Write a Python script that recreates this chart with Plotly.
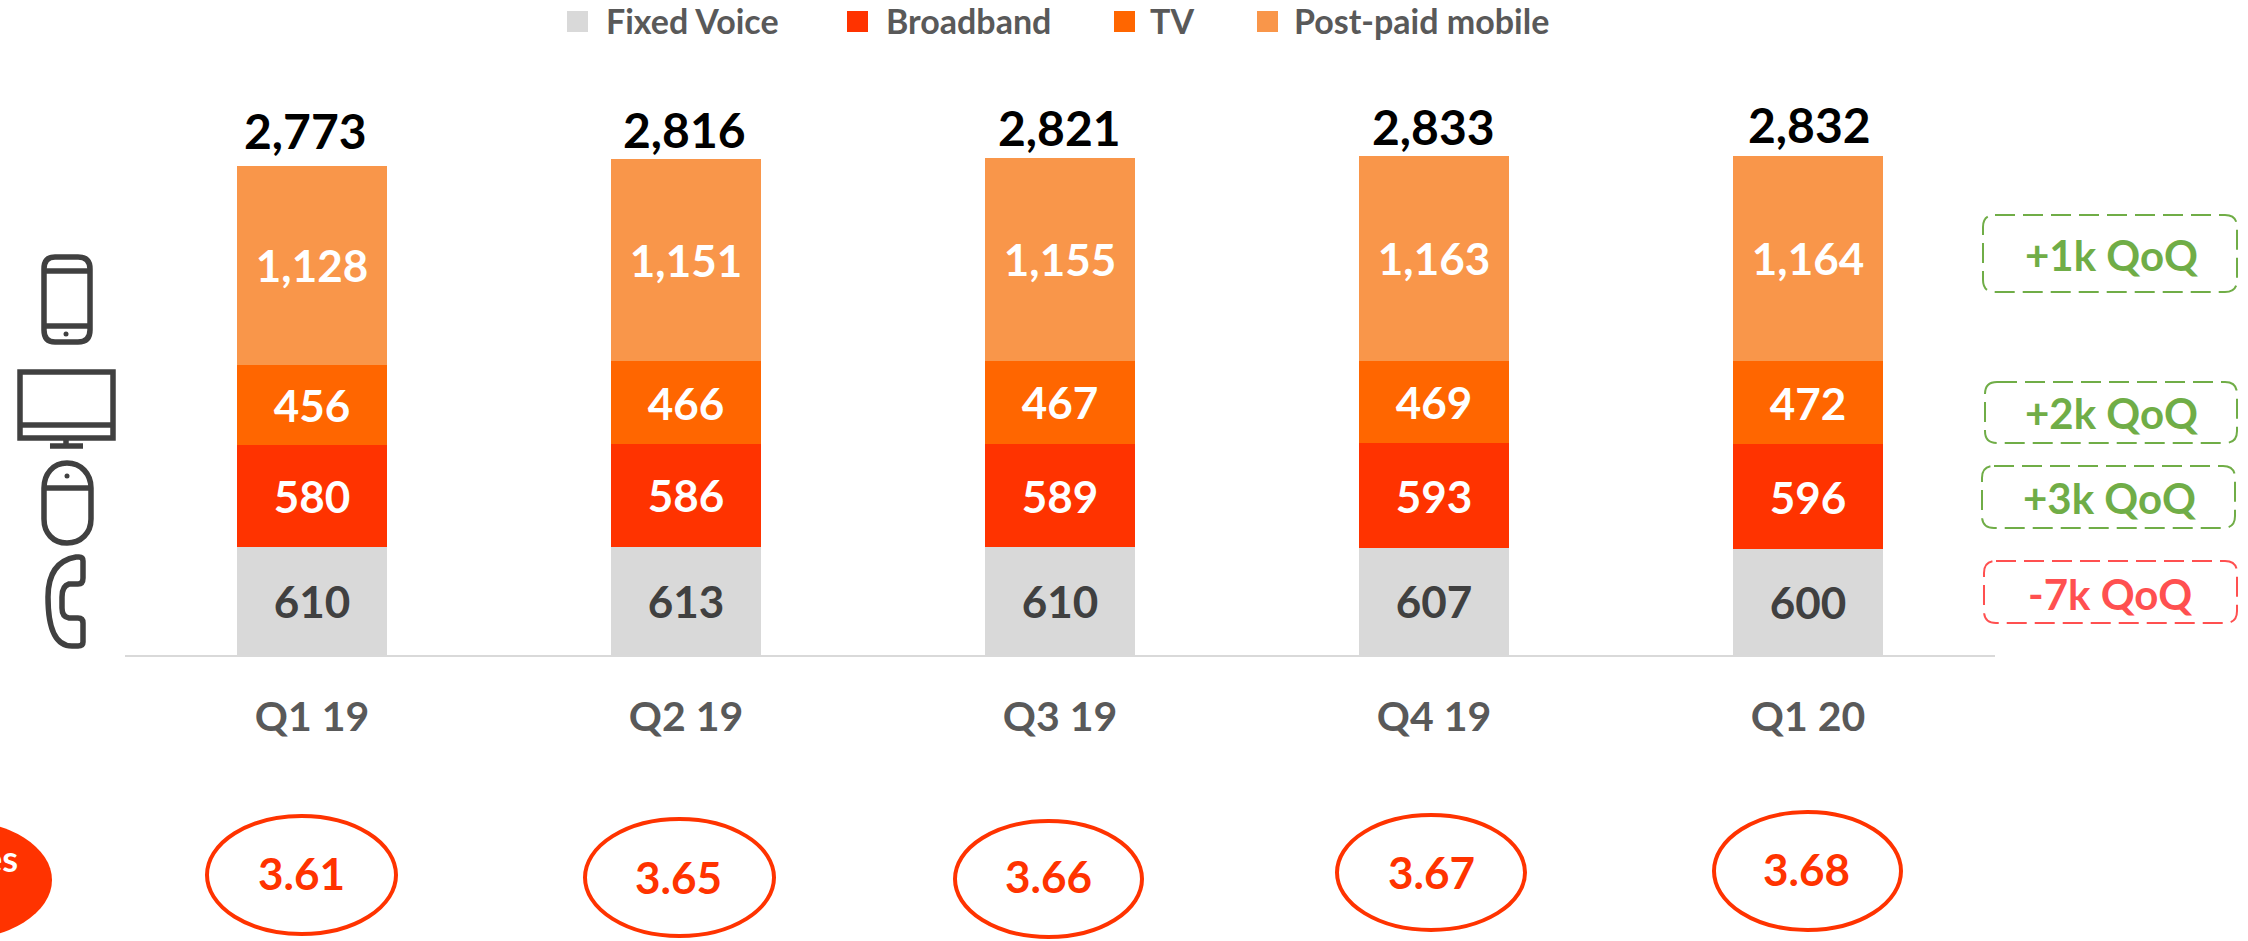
import re
import plotly.graph_objects as go

W, H = 2248, 941
FONT = "Lato"

quarters = ["Q1 19", "Q2 19", "Q3 19", "Q4 19", "Q1 20"]
fixed_voice = [610, 613, 610, 607, 600]
broadband = [580, 586, 589, 593, 596]
tv = [456, 466, 467, 469, 472]
post_paid = [1128, 1151, 1155, 1163, 1164]
totals = [2773, 2816, 2821, 2833, 2832]
per_customer = ["3.61", "3.65", "3.66", "3.67", "3.68"]
qoq_labels = ["+1k QoQ", "+2k QoQ", "+3k QoQ", "-7k QoQ"]
series_names = ["Fixed Voice", "Broadband", "TV", "Post-paid mobile"]

GREY, RED, ORANGE, LIGHT = "#D9D9D9", "#FF3300", "#FF6600", "#F9964A"
GREEN, SOFTRED = "#70AD47", "#FF5050"
DARK, MID = "#404040", "#595959"


def px(x):
    return x / W


def py(y):
    return 1 - y / H


def path(d):
    """Convert an SVG path given in page pixels to paper coordinates."""
    out, is_x = [], True
    for tok in re.findall(r"[MLQCZ]|-?[\d.]+", d):
        if tok.isalpha():
            out.append(tok)
            is_x = True
        else:
            v = float(tok)
            out.append(f"{px(v):.5f}" if is_x else f"{py(v):.5f}")
            is_x = not is_x
    return " ".join(out)


fig = go.Figure()
stack = [
    (series_names[0], fixed_voice, GREY, DARK),
    (series_names[1], broadband, RED, "white"),
    (series_names[2], tv, ORANGE, "white"),
    (series_names[3], post_paid, LIGHT, "white"),
]
for name, vals, col, tcol in stack:
    fig.add_trace(go.Bar(
        x=quarters, y=vals, name=name, marker=dict(color=col, line=dict(width=0)),
        text=[f"{v:,}" for v in vals], textposition="inside", insidetextanchor="middle",
        textangle=0, constraintext="none", cliponaxis=False,
        textfont=dict(family=FONT, size=44, color=tcol, weight="bold"), showlegend=False,
    ))

shapes, anns = [], []


def text(s, x, y, size, color, xanchor="center"):
    anns.append(dict(text=f"<b>{s}</b>", x=px(x), y=py(y), xref="paper", yref="paper",
                     xanchor=xanchor, yanchor="middle", showarrow=False,
                     font=dict(family=FONT, size=size, color=color)))


# totals above the stacks
total_yshift = [5, -1, 0, -1, 1]
total_xshift = [-7, -2, -1, -1, 1]
for q, t, ys, xs in zip(quarters, totals, total_yshift, total_xshift):
    anns.append(dict(text=f"<b>{t:,}</b>", x=q, y=t, xref="x", yref="y", xanchor="center",
                     yanchor="bottom", yshift=ys, xshift=xs, showarrow=False,
                     font=dict(family=FONT, size=48, color="black")))

# legend
legend_pos = [(567, 604), (847, 884), (1114, 1148), (1257, 1292)]
for (sx, tx), name, col in zip(legend_pos, series_names, [GREY, RED, ORANGE, LIGHT]):
    shapes.append(dict(type="rect", xref="paper", yref="paper", x0=px(sx), x1=px(sx + 21),
                       y0=py(32), y1=py(11), fillcolor=col, line=dict(width=0)))
    text(name, tx, 21, 34, MID, "left")

# QoQ boxes
box_pos = [(1983, 2237, 215, 292, 2111, 255), (1985, 2237, 382, 443, 2111, 413),
           (1982, 2235, 466, 528, 2109, 498), (1984, 2237, 561, 623, 2110, 594)]
for lab, (x0, x1, y0, y1, tx, ty) in zip(qoq_labels, box_pos):
    c = SOFTRED if lab.startswith("-") else GREEN
    r = 12
    d = (f"M {x0+r} {y0} L {x1-r} {y0} Q {x1} {y0} {x1} {y0+r} L {x1} {y1-r} "
         f"Q {x1} {y1} {x1-r} {y1} L {x0+r} {y1} Q {x0} {y1} {x0} {y1-r} "
         f"L {x0} {y0+r} Q {x0} {y0} {x0+r} {y0} Z")
    shapes.append(dict(type="path", xref="paper", yref="paper", path=path(d),
                       line=dict(color=c, width=2, dash="20px,8px")))
    text(lab, tx, ty, 42, c)

# per-customer ellipses
ell_pos = [(207, 396, 816, 934, 301, 873), (585, 774, 819, 936, 678, 877),
           (955, 1142, 821, 937, 1048, 876), (1337, 1525, 815, 930, 1431, 872),
           (1714, 1901, 812, 930, 1806, 869)]
for v, (x0, x1, y0, y1, tx, ty) in zip(per_customer, ell_pos):
    shapes.append(dict(type="circle", xref="paper", yref="paper", x0=px(x0), x1=px(x1),
                       y0=py(y1), y1=py(y0), line=dict(color=RED, width=4),
                       fillcolor="rgba(0,0,0,0)"))
    text(v, tx, ty, 44, RED)

# clipped filled ellipse at the left edge
shapes.append(dict(type="circle", xref="paper", yref="paper", x0=px(-141), x1=px(52),
                   y0=py(940), y1=py(820), fillcolor=RED, line=dict(width=0)))
text("es", 20, 858, 36, "white", "right")

# icons
icon_paths = [
    # smartphone
    "M 55 257 L 78 257 Q 90 257 90 269 L 90 330 Q 90 342 78 342 L 55 342 Q 44 342 44 330 "
    "L 44 269 Q 44 257 55 257 Z",
    "M 44 271 L 90 271", "M 44 326 L 90 326",
    # monitor
    "M 20 372 L 113 372 L 113 438 L 20 438 Z", "M 20 425 L 113 425",
    "M 66 438 L 66 446", "M 50 446 L 83 446",
    # mouse
    "M 67 463 C 81 463 91 474 91 488 L 91 519 C 91 533 81 543 67 543 C 53 543 44 533 44 519 "
    "L 44 488 C 44 474 53 463 67 463 Z",
    "M 44 488 L 91 488",
    # handset
    "M 76 557 L 79 557 Q 83 557 83 561 L 83 578 Q 83 584 78 584 L 69 584 Q 62 586 62 597 "
    "L 62 608 Q 62 617 69 618 L 78 618 Q 83 618 83 623 L 83 642 Q 83 646 78 646 L 72 646 "
    "Q 48 646 48 597 Q 48 562 76 557 Z",
]
for d in icon_paths:
    shapes.append(dict(type="path", xref="paper", yref="paper", path=path(d),
                       line=dict(color=DARK, width=5.5)))
for cx, cy in [(66, 334), (67, 476)]:
    shapes.append(dict(type="circle", xref="paper", yref="paper", x0=px(cx - 2.5), x1=px(cx + 2.5),
                       y0=py(cy + 2.5), y1=py(cy - 2.5), fillcolor=DARK, line=dict(width=0)))

fig.update_layout(
    width=W, height=H, margin=dict(l=0, r=0, t=0, b=0), barmode="stack", bargap=0.6,
    paper_bgcolor="white", plot_bgcolor="white", shapes=shapes, annotations=anns,
    showlegend=False,
    xaxis=dict(domain=[125 / W, 1995 / W], type="category", showgrid=False, showline=True,
               linecolor=GREY, linewidth=2, ticks="", ticklabelstandoff=25,
               tickfont=dict(family=FONT, size=41, color=MID, weight="bold")),
    yaxis=dict(domain=[286 / H, 1], range=[0, 3715], visible=False, showgrid=False),
)
fig.write_html("out.html", config={"displayModeBar": False},
               post_script="document.body.style.margin='0';document.body.style.overflow='hidden';")
